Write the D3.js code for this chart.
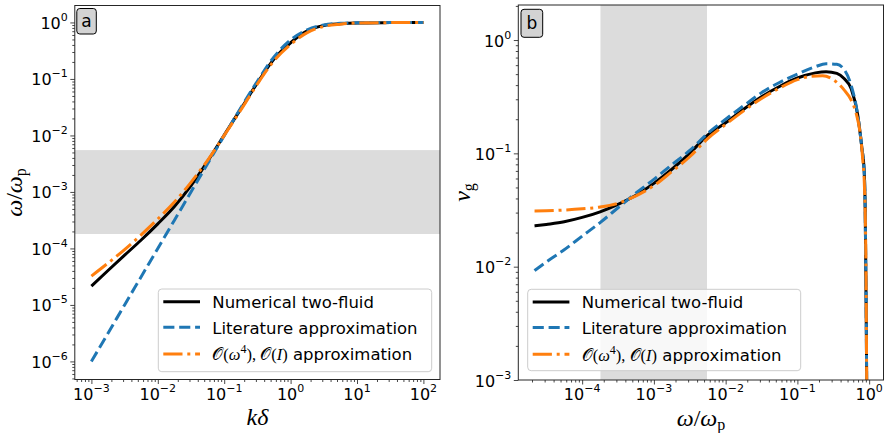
<!DOCTYPE html>
<html><head><meta charset="utf-8">
<script src="https://cdn.jsdelivr.net/npm/d3@7"></script>
<style>body{margin:0;background:#fff} svg{display:block}</style>
</head><body>
<svg id="c" width="887" height="433"></svg>
<script>
// ---------- DATA ----------
// Panel a: omega/omega_p versus k*delta
const kDelta = [0.001,0.00178,0.00316,0.00562,0.01,0.0178,0.0316,0.0562,0.1,0.178,0.316,0.562,1,1.78,3.16,5.62,10,31.6,100];
const omegaNumerical  = [2.15e-5,4.07e-5,7.59e-5,1.41e-4,2.72e-4,5.50e-4,1.29e-3,3.47e-3,1.02e-2,2.95e-2,8.51e-2,0.224,0.437,0.708,0.881,0.944,0.977,0.993,1.0];
const omegaLiterature = [1.0e-6,3.16e-6,1.0e-5,3.16e-5,1.0e-4,3.16e-4,1.0e-3,3.16e-3,9.9e-3,3.09e-2,9.12e-2,0.245,0.49,0.741,0.902,0.966,0.989,0.999,1.0];
const omegaApprox     = [3.24e-5,5.50e-5,9.55e-5,1.74e-4,3.31e-4,6.61e-4,1.48e-3,3.63e-3,1.0e-2,2.82e-2,8.13e-2,0.209,0.407,0.661,0.851,0.933,0.977,0.993,1.0];

// Panel b: group velocity versus omega/omega_p
const omegaB = [2.17e-5,3.16e-5,5.62e-5,1e-4,1.78e-4,3.16e-4,5.62e-4,1e-3,1.78e-3,3.16e-3,5.62e-3,0.01,0.0178,0.0316,0.0562,0.1,0.178,0.251,0.355,0.447,0.562,0.692,0.794,0.851,0.881,0.897,0.912,0.923,0.933];
const vgNumerical  = [0.0229,0.0236,0.0249,0.0272,0.0305,0.0355,0.0427,0.0543,0.0724,0.1,0.145,0.186,0.245,0.316,0.389,0.462,0.513,0.526,0.507,0.457,0.372,0.219,0.110,0.0724,0.0316,0.01,0.00316,0.001,3.16e-4];
const vgLiterature = [0.00923,0.011,0.0141,0.0186,0.0245,0.0331,0.0447,0.0589,0.0794,0.106,0.150,0.2,0.263,0.343,0.422,0.501,0.582,0.617,0.610,0.550,0.398,0.219,0.110,0.0708,0.0316,0.01,0.00316,0.001,3.16e-4];
const omegaApproxB = [2.17e-5,3.16e-5,5.62e-5,1e-4,1.78e-4,3.16e-4,5.62e-4,1e-3,1.78e-3,3.16e-3,5.62e-3,0.01,0.0178,0.0316,0.0562,0.1,0.158,0.224,0.316,0.447,0.562,0.661,0.741,0.813,0.861,0.891,0.908,0.920,0.933];
const vgApprox     = [0.031,0.0311,0.0316,0.0324,0.0336,0.0363,0.0422,0.0519,0.0692,0.0933,0.135,0.180,0.237,0.305,0.376,0.447,0.479,0.484,0.447,0.363,0.295,0.224,0.158,0.0891,0.0501,0.02,0.00631,0.00158,3.16e-4];

// shaded frequency band (same in both panels)
const bandRange = [1.8e-4, 5.5e-3];

// tick values
const xTicksA = [1e-3,1e-2,1e-1,1,10,100];
const yTicksA = [1e-6,1e-5,1e-4,1e-3,1e-2,1e-1,1];
const xTicksB = [1e-4,1e-3,1e-2,1e-1,1];
const yTicksB = [1e-3,1e-2,1e-1,1];

const seriesNames = ["Numerical two-fluid","Literature approximation","approximation"];
const panelLabels = ["a","b"];

// ---------- DRAWING ----------
const svg = d3.select("#c");
const SANS = "DejaVu Sans";
const SERIF = "Liberation Serif";
const COLORS = ["#000000","#1f77b4","#ff7f0e"];
const DASHES = [null,"11.1,4.8","19.2,4.8,3,4.8"];
const LW = 3;

function minorTicks(domain){
  const out=[];
  const lo=Math.floor(Math.log10(domain[0])), hi=Math.ceil(Math.log10(domain[1]));
  for(let e=lo;e<=hi;e++) for(let m=2;m<=9;m++){
    const v=m*Math.pow(10,e);
    if(v>=domain[0]*1.0001 && v<=domain[1]*0.9999) out.push(v);
  }
  return out;
}
function expOf(v){ return Math.round(Math.log10(v)); }
function supLabel(sel, v){
  const e=expOf(v);
  sel.append("tspan").text("10");
  sel.append("tspan").attr("font-size",11).attr("dy",-8).text(e<0?"\u2212"+(-e):String(e));
}

function panel(cfg){
  const {x0,x1,y0,y1,xDom,yDom,xTicks,yTicks,id} = cfg;
  const x=d3.scaleLog().domain(xDom).range([x0,x1]);
  const y=d3.scaleLog().domain(yDom).range([y1,y0]);
  const g=svg.append("g");
  g.append("clipPath").attr("id","clip"+id).append("rect")
    .attr("x",x0).attr("y",y0).attr("width",x1-x0).attr("height",y1-y0);
  const plot=g.append("g").attr("clip-path",`url(#clip${id})`);

  // band
  if(cfg.band==="y"){
    plot.append("rect").attr("x",x0).attr("width",x1-x0)
      .attr("y",y(bandRange[1])).attr("height",y(bandRange[0])-y(bandRange[1]))
      .attr("fill","#dcdcdc");
  } else {
    plot.append("rect").attr("y",y0).attr("height",y1-y0)
      .attr("x",x(bandRange[0])).attr("width",x(bandRange[1])-x(bandRange[0]))
      .attr("fill","#dcdcdc");
  }

  // lines
  const line=d3.line().x(d=>x(d[0])).y(d=>y(d[1])).curve(d3.curveMonotoneX);
  cfg.series.forEach((s,i)=>{
    plot.append("path").datum(d3.zip(s.x,s.y)).attr("d",line)
      .attr("fill","none").attr("stroke",COLORS[i]).attr("stroke-width",LW)
      .attr("stroke-dasharray",DASHES[i]).attr("stroke-linecap","butt");
  });

  // axes ticks
  const ax=g.append("g").attr("transform",`translate(0,${y1})`)
    .call(d3.axisBottom(x).tickValues(xTicks).tickSize(4.5).tickSizeOuter(0).tickFormat(""));
  const axm=g.append("g").attr("transform",`translate(0,${y1})`)
    .call(d3.axisBottom(x).tickValues(minorTicks(xDom)).tickSize(2.5).tickSizeOuter(0).tickFormat(""));
  const ay=g.append("g").attr("transform",`translate(${x0},0)`)
    .call(d3.axisLeft(y).tickValues(yTicks).tickSize(4.5).tickSizeOuter(0).tickFormat(""));
  const aym=g.append("g").attr("transform",`translate(${x0},0)`)
    .call(d3.axisLeft(y).tickValues(minorTicks(yDom)).tickSize(2.5).tickSizeOuter(0).tickFormat(""));
  [ax,axm,ay,aym].forEach(a=>{a.select(".domain").remove(); a.selectAll("line").attr("stroke","#333").attr("stroke-width",0.9);});

  // tick labels
  xTicks.forEach(v=>{
    const t=g.append("text").attr("x",x(v)).attr("y",y1+20).attr("text-anchor","middle")
      .attr("font-family",SANS).attr("font-size",16).attr("fill","#000");
    supLabel(t,v);
  });
  yTicks.forEach(v=>{
    const t=g.append("text").attr("x",x0-7).attr("y",y(v)+6.5).attr("text-anchor","end")
      .attr("font-family",SANS).attr("font-size",16).attr("fill","#000");
    supLabel(t,v);
  });

  // frame
  g.append("rect").attr("x",x0).attr("y",y0).attr("width",x1-x0).attr("height",y1-y0)
    .attr("fill","none").attr("stroke","#262626").attr("stroke-width",1);

  // panel label
  const lb=cfg.labelBox;
  g.append("rect").attr("x",lb[0]).attr("y",lb[1]).attr("width",lb[2]).attr("height",lb[3])
    .attr("rx",3).attr("fill","#d3d3d3").attr("stroke","#000").attr("stroke-width",1);
  g.append("text").attr("x",lb[0]+lb[2]/2).attr("y",lb[1]+lb[3]/2+5.5).attr("text-anchor","middle")
    .attr("font-family",SANS).attr("font-size",17).text(cfg.label);

  // legend
  const L=cfg.legend; // [x,y,w,h]
  g.append("rect").attr("x",L[0]).attr("y",L[1]).attr("width",L[2]).attr("height",L[3])
    .attr("rx",3.5).attr("fill","#fff").attr("fill-opacity",0.8).attr("stroke","#cccccc").attr("stroke-width",1);
  const rows=[12.7,38.3,65];
  rows.forEach((r,i)=>{
    const yy=L[1]+r;
    g.append("line").attr("x1",L[0]+5).attr("x2",L[0]+41.7).attr("y1",yy).attr("y2",yy)
      .attr("stroke",COLORS[i]).attr("stroke-width",LW).attr("stroke-dasharray",DASHES[i]);
    const t=g.append("text").attr("x",L[0]+54).attr("y",yy+6.3)
      .attr("font-family",SANS).attr("font-size",16.5).attr("fill","#000");
    if(i<2){ t.text(seriesNames[i]); }
    else {
      const m=(s,o={})=>{const ts=t.append("tspan").attr("font-family",SERIF).text(s);
        Object.entries(o).forEach(([k,v])=>ts.attr(k,v)); return ts;};
      m("\u{1D4AA}",{});
      m("(");
      m("\u03C9",{"font-style":"italic"});
      m("4",{"font-size":12,"dy":-7});
      m(")",{"dy":7});
      m(", ");
      m("\u{1D4AA}");
      m("(");
      m("I",{"font-style":"italic"});
      m(")");
      t.append("tspan").text(" "+seriesNames[2]);
    }
  });

  return {x,y,g};
}

const A=panel({id:"A",x0:74.8,x1:440,y0:5.5,y1:379.5,
  xDom:[Math.pow(10,-3.25),Math.pow(10,2.25)], yDom:[Math.pow(10,-6.32),Math.pow(10,0.30)],
  xTicks:xTicksA,yTicks:yTicksA,band:"y",
  series:[{x:kDelta,y:omegaNumerical},{x:kDelta,y:omegaLiterature},{x:kDelta,y:omegaApprox}],
  labelBox:[76.8,8.5,19.5,25.5],label:panelLabels[0],legend:[158.3,289,273.4,82.7]});

const B=panel({id:"B",x0:518.3,x1:883.5,y0:5,y1:380,
  xDom:[Math.pow(10,-4.89),Math.pow(10,0.20)], yDom:[1e-3,Math.pow(10,0.309)],
  xTicks:xTicksB,yTicks:yTicksB,band:"x",
  series:[{x:omegaB,y:vgNumerical},{x:omegaB,y:vgLiterature},{x:omegaApproxB,y:vgApprox}],
  labelBox:[521,9.3,21.7,28],label:panelLabels[1],legend:[527.7,289.3,273,81.4]});

// axis labels
function mathText(x,y,rot,parts){
  const t=svg.append("text").attr("transform",`translate(${x},${y}) rotate(${rot})`)
    .attr("text-anchor","middle").attr("font-family",SERIF).attr("font-size",24);
  parts.forEach(p=>{const ts=t.append("tspan").text(p.t);
    if(p.i) ts.attr("font-style","italic");
    if(p.sub){ ts.attr("font-size",16).attr("dy",4); }
  });
  return t;
}
mathText(22,192.5,-90,[{t:"\u03C9",i:1},{t:"/"},{t:"\u03C9",i:1},{t:"p",sub:1}]);
mathText(257.4,425,0,[{t:"k",i:1},{t:"\u03B4",i:1}]);
mathText(470,192.5,-90,[{t:"v",i:1},{t:"g",sub:1}]);
mathText(701,426,0,[{t:"\u03C9",i:1},{t:"/"},{t:"\u03C9",i:1},{t:"p",sub:1}]);
</script>
</body></html>
